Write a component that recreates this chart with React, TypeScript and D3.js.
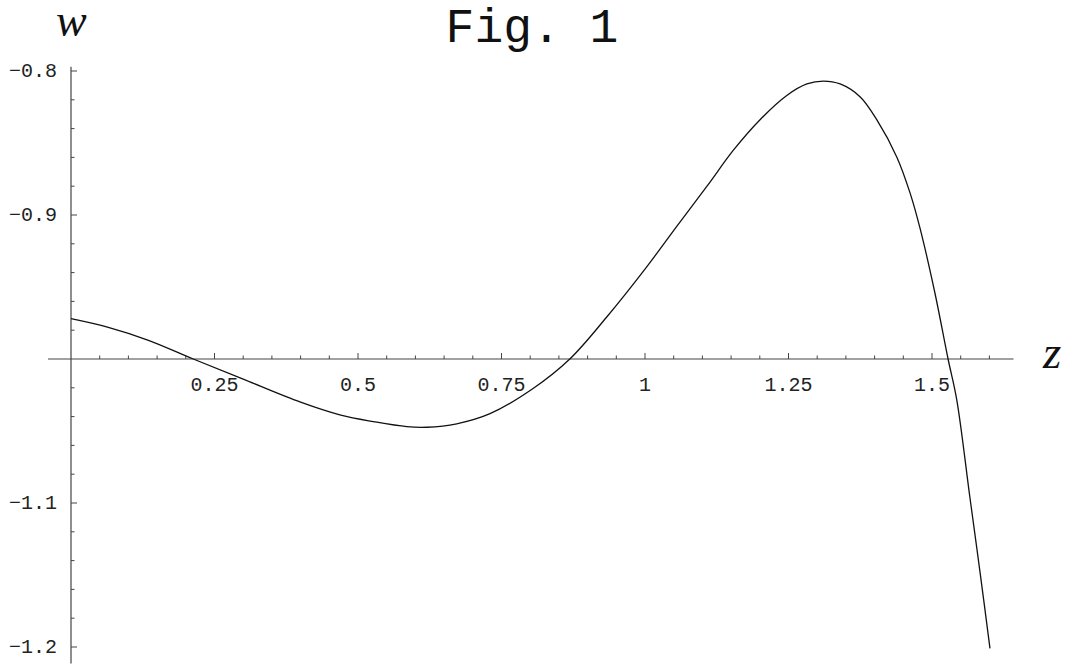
import * as d3 from "d3";

// curve samples
const zData = [0, 0.065, 0.135, 0.213, 0.3, 0.4, 0.47, 0.527, 0.585, 0.62, 0.672, 0.73, 0.805, 0.869, 0.933, 1.003, 1.055, 1.108, 1.154, 1.2, 1.247, 1.282, 1.311, 1.34, 1.375, 1.404, 1.439, 1.462, 1.479, 1.505, 1.528, 1.543, 1.566, 1.584, 1.601];
const wData = [-0.972, -0.978, -0.987, -1.0, -1.014, -1.03, -1.039, -1.0435, -1.047, -1.0474, -1.045, -1.038, -1.0205, -1.0, -0.971, -0.936, -0.908, -0.88, -0.855, -0.834, -0.817, -0.809, -0.807, -0.809, -0.818, -0.834, -0.86, -0.885, -0.909, -0.954, -1.0, -1.028, -1.096, -1.149, -1.201];

const xTicks = [0.25, 0.5, 0.75, 1, 1.25, 1.5];
const yTicks = [-0.8, -0.9, -1.1, -1.2];
const title = "Fig. 1";
const xLabel = "z";
const yLabel = "w";

const width = 1072;
const height = 668;

export default function App() {
  const x = d3.scaleLinear().domain([0, 1.6]).range([71, 989.4]);
  const y = d3.scaleLinear().domain([-1.2, -0.8]).range([647, 71]);

  const axisY = y(-1);
  const axisX = x(0);

  const xMinor = d3.range(1, 33).map((i) => i * 0.05).filter((v) => Math.abs(v / 0.25 - Math.round(v / 0.25)) > 1e-6);
  const yMinor = d3.range(0, 21).map((i) => -1.2 + i * 0.02).filter((v) => Math.abs(v / 0.1 - Math.round(v / 0.1)) > 1e-6);

  const line = d3.line<number>()
    .x((_, i) => x(zData[i]))
    .y((d) => y(d))
    .curve(d3.curveCatmullRom.alpha(0.5));

  const fmt = d3.format("");
  const mono = "'Liberation Mono', 'Courier New', monospace";
  const serif = "'Liberation Serif', 'Times New Roman', serif";
  const axisColor = "#444";

  return (
    <svg width={width} height={height} style={{ position: "absolute", left: 0, top: 0, background: "#fff" }}>
      {/* axes */}
      <line x1={x(-0.04)} x2={x(1.642)} y1={axisY} y2={axisY} stroke={axisColor} strokeWidth={1.2} />
      <line x1={axisX} x2={axisX} y1={y(-0.797)} y2={y(-1.2115)} stroke={axisColor} strokeWidth={1.2} />

      {/* x ticks */}
      {xTicks.map((t) => (
        <g key={"xt" + t}>
          <line x1={x(t)} x2={x(t)} y1={axisY} y2={axisY - 6} stroke={axisColor} strokeWidth={1} />
          <text x={x(t)} y={axisY + 32} textAnchor="middle" fontFamily={mono} fontSize={20} fill="#222">
            {fmt(t)}
          </text>
        </g>
      ))}
      {xMinor.map((t) => (
        <line key={"xm" + t} x1={x(t)} x2={x(t)} y1={axisY} y2={axisY - 3.5} stroke={axisColor} strokeWidth={1} />
      ))}

      {/* y ticks */}
      {yTicks.map((t) => (
        <g key={"yt" + t}>
          <line x1={axisX} x2={axisX + 6} y1={y(t)} y2={y(t)} stroke={axisColor} strokeWidth={1} />
          <text x={57} y={y(t) + 6} textAnchor="end" fontFamily={mono} fontSize={20} fill="#222">
            {fmt(t)}
          </text>
        </g>
      ))}
      {yMinor.map((t) => (
        <line key={"ym" + t} x1={axisX} x2={axisX + 3.5} y1={y(t)} y2={y(t)} stroke={axisColor} strokeWidth={1} />
      ))}

      {/* curve */}
      <path d={line(wData) ?? ""} fill="none" stroke="#111" strokeWidth={1.3} />

      {/* labels */}
      <text x={532} y={42} textAnchor="middle" fontFamily={mono} fontSize={48} fill="#111">
        {title}
      </text>
      <text x={56} y={36} fontFamily={serif} fontStyle="italic" fontSize={46} fill="#111">
        {yLabel}
      </text>
      <text x={1043} y={368} fontFamily={serif} fontStyle="italic" fontSize={47} fill="#111">
        {xLabel}
      </text>
    </svg>
  );
}
